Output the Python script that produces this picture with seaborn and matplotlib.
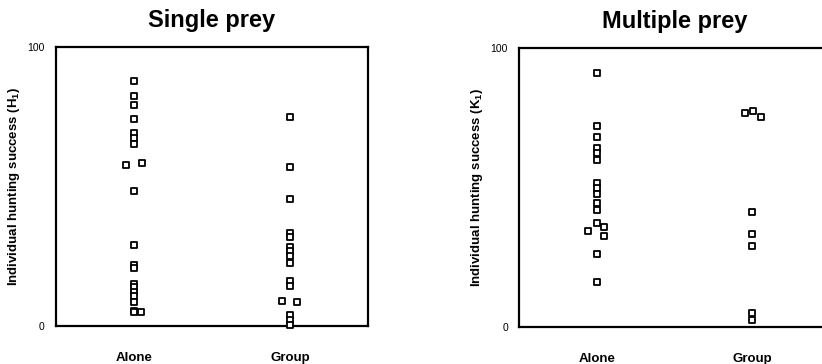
import matplotlib
matplotlib.use("Agg")
import matplotlib.pyplot as plt
import seaborn as sns
import pandas as pd

# Individual hunting success per lion, hunting alone vs. in a group
categories = ["Alone", "Group"]

single_alone = [87.8, 82.3, 79.2, 74.2, 69.0, 67.2, 65.2, 57.6, 58.5, 48.4,
                29.1, 22.0, 20.6, 15.2, 13.8, 12.3, 10.7, 8.7, 5.5, 5.0, 4.9]
single_alone_dx = [0, 0, 0, 0, 0, 0, 0, -0.05, 0.05, 0,
                   0, 0, 0, 0, 0, 0, 0, 0, 0, 0, 0.045]
single_group = [74.9, 57.0, 45.5, 33.3, 32.0, 28.2, 27.0, 25.1, 22.7,
                16.2, 14.3, 9.1, 8.6, 3.9, 2.1, 0.3]
single_group_dx = [0, 0, 0, 0, 0, 0, 0, 0, 0,
                   0, 0, -0.054, 0.045, 0, 0, 0]

multi_alone = [91.0, 72.1, 68.0, 64.1, 62.5, 59.9, 51.5, 49.7, 47.7,
               44.3, 41.9, 37.1, 35.9, 34.5, 32.7, 26.0, 16.2]
multi_alone_dx = [0, 0, 0, 0, 0, 0, 0, 0, 0,
                  0, 0, 0, 0.047, -0.058, 0.047, 0, 0]
multi_group = [76.7, 77.5, 75.2, 41.3, 33.2, 29.1, 5.0, 2.6]
multi_group_dx = [-0.045, 0.006, 0.056, 0, 0, 0, 0, 0]

panels = [
    ("Single prey", "Individual hunting success (H$_\\mathbf{1}$)",
     single_alone, single_alone_dx, single_group, single_group_dx),
    ("Multiple prey", "Individual hunting success (K$_\\mathbf{1}$)",
     multi_alone, multi_alone_dx, multi_group, multi_group_dx),
]

sns.set_style("white")
plt.rcParams["font.family"] = ["Liberation Sans", "DejaVu Sans"]
plt.rcParams["mathtext.fontset"] = "custom"
plt.rcParams["mathtext.rm"] = "Liberation Sans"
plt.rcParams["mathtext.bf"] = "Liberation Sans:bold"
plt.rcParams["text.color"] = "black"
plt.rcParams["axes.labelcolor"] = "black"
plt.rcParams["xtick.color"] = "black"
plt.rcParams["ytick.color"] = "black"

fig = plt.figure(figsize=(8.22, 3.64), dpi=100)
axes_rects = [[0.0681, 0.1044, 0.3796, 0.767],
              [0.6314, 0.1016, 0.3784, 0.767]]

for rect, (title, ylabel, a_vals, a_dx, g_vals, g_dx) in zip(axes_rects, panels):
    ax = fig.add_axes(rect)
    df = pd.DataFrame({
        "x": [0 + d for d in a_dx] + [1 + d for d in g_dx],
        "y": a_vals + g_vals,
    })
    sns.scatterplot(data=df, x="x", y="y", ax=ax, marker="s", s=20,
                    facecolor="white", edgecolor="black", linewidth=1.3,
                    legend=False, zorder=3, clip_on=False)
    ax.set_xlim(-0.5, 1.5)
    ax.set_ylim(0, 100)
    ax.set_xticks([0, 1])
    ax.set_xticklabels(categories, fontsize=9.5, fontweight="bold")
    ax.set_yticks([0, 100])
    ax.set_yticklabels(["0", "100"], fontsize=7.5)
    ax.tick_params(axis="x", length=0, pad=19)
    ax.tick_params(axis="y", length=0, pad=8)
    ax.set_xlabel("")
    ax.set_ylabel(ylabel, fontsize=9.5, fontweight="bold", labelpad=4)
    ax.set_title(title, fontsize=17, fontweight="bold", pad=14)
    for side in ["left", "right", "top", "bottom"]:
        ax.spines[side].set_visible(True)
        ax.spines[side].set_color("black")
        ax.spines[side].set_linewidth(1.6)

fig.savefig("out.png", dpi=100)
